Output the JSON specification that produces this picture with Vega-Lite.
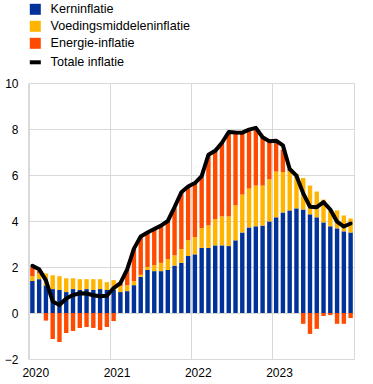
{
  "$schema": "https://vega.github.io/schema/vega-lite/v6.json",
  "width": 325,
  "height": 276,
  "autosize": {"type": "none"},
  "padding": {"left": 29, "top": 83, "right": 19, "bottom": 25},
  "config": {
    "font": "Liberation Sans",
    "view": {"stroke": "#d9d9d9", "strokeWidth": 1},
    "axis": {"gridColor": "#d9d9d9", "gridWidth": 1, "domain": false, "ticks": false, "labelFontSize": 12, "labelColor": "#000000", "titleFontSize": 12}
  },
  "data": {
    "values": [
      {"m": "2020-01", "core": 1.39, "food": 0.21, "energy": 0.38, "total": 2.05},
      {"m": "2020-02", "core": 1.47, "food": 0.25, "energy": 0.12, "total": 1.9},
      {"m": "2020-03", "core": 1.2, "food": 0.52, "energy": -0.33, "total": 1.42},
      {"m": "2020-04", "core": 1.04, "food": 0.6, "energy": -1.13, "total": 0.5},
      {"m": "2020-05", "core": 1.0, "food": 0.6, "energy": -1.26, "total": 0.35},
      {"m": "2020-06", "core": 0.91, "food": 0.6, "energy": -0.87, "total": 0.63},
      {"m": "2020-07", "core": 1.04, "food": 0.47, "energy": -0.78, "total": 0.78},
      {"m": "2020-08", "core": 1.0, "food": 0.47, "energy": -0.65, "total": 0.86},
      {"m": "2020-09", "core": 1.04, "food": 0.43, "energy": -0.61, "total": 0.85},
      {"m": "2020-10", "core": 1.0, "food": 0.47, "energy": -0.65, "total": 0.77},
      {"m": "2020-11", "core": 1.04, "food": 0.43, "energy": -0.74, "total": 0.73},
      {"m": "2020-12", "core": 1.0, "food": 0.34, "energy": -0.61, "total": 0.75},
      {"m": "2021-01", "core": 1.0, "food": 0.43, "energy": -0.35, "total": 1.08},
      {"m": "2021-02", "core": 0.91, "food": 0.26, "energy": 0.12, "total": 1.3},
      {"m": "2021-03", "core": 0.95, "food": 0.26, "energy": 0.69, "total": 1.9},
      {"m": "2021-04", "core": 1.21, "food": 0.18, "energy": 1.4, "total": 2.8},
      {"m": "2021-05", "core": 1.57, "food": 0.09, "energy": 1.64, "total": 3.33},
      {"m": "2021-06", "core": 1.87, "food": 0.13, "energy": 1.5, "total": 3.5},
      {"m": "2021-07", "core": 1.82, "food": 0.26, "energy": 1.55, "total": 3.65},
      {"m": "2021-08", "core": 1.82, "food": 0.36, "energy": 1.6, "total": 3.8},
      {"m": "2021-09", "core": 1.87, "food": 0.47, "energy": 1.65, "total": 4.0},
      {"m": "2021-10", "core": 2.06, "food": 0.45, "energy": 2.05, "total": 4.6},
      {"m": "2021-11", "core": 2.18, "food": 0.6, "energy": 2.45, "total": 5.25},
      {"m": "2021-12", "core": 2.48, "food": 0.68, "energy": 2.35, "total": 5.5},
      {"m": "2022-01", "core": 2.55, "food": 0.75, "energy": 2.35, "total": 5.65},
      {"m": "2022-02", "core": 2.83, "food": 0.86, "energy": 2.25, "total": 5.95},
      {"m": "2022-03", "core": 2.83, "food": 0.98, "energy": 3.05, "total": 6.88},
      {"m": "2022-04", "core": 2.94, "food": 1.14, "energy": 2.95, "total": 7.05},
      {"m": "2022-05", "core": 2.94, "food": 1.26, "energy": 3.2, "total": 7.4},
      {"m": "2022-06", "core": 2.91, "food": 1.29, "energy": 3.65, "total": 7.87},
      {"m": "2022-07", "core": 3.16, "food": 1.52, "energy": 3.15, "total": 7.85},
      {"m": "2022-08", "core": 3.5, "food": 1.65, "energy": 2.65, "total": 7.84},
      {"m": "2022-09", "core": 3.72, "food": 1.69, "energy": 2.55, "total": 7.97},
      {"m": "2022-10", "core": 3.77, "food": 1.77, "energy": 2.5, "total": 8.05},
      {"m": "2022-11", "core": 3.8, "food": 1.74, "energy": 2.1, "total": 7.64},
      {"m": "2022-12", "core": 3.98, "food": 1.83, "energy": 1.65, "total": 7.47},
      {"m": "2023-01", "core": 4.16, "food": 1.99, "energy": 1.35, "total": 7.49},
      {"m": "2023-02", "core": 4.37, "food": 1.76, "energy": 0.97, "total": 7.29},
      {"m": "2023-03", "core": 4.46, "food": 1.7, "energy": 0.1, "total": 6.26},
      {"m": "2023-04", "core": 4.55, "food": 1.5, "energy": 0.0, "total": 5.97},
      {"m": "2023-05", "core": 4.5, "food": 1.37, "energy": -0.47, "total": 5.2},
      {"m": "2023-06", "core": 4.29, "food": 1.25, "energy": -0.91, "total": 4.62},
      {"m": "2023-07", "core": 4.16, "food": 1.12, "energy": -0.69, "total": 4.6},
      {"m": "2023-08", "core": 3.94, "food": 0.99, "energy": -0.13, "total": 4.82},
      {"m": "2023-09", "core": 3.77, "food": 0.69, "energy": -0.09, "total": 4.5},
      {"m": "2023-10", "core": 3.68, "food": 0.78, "energy": -0.47, "total": 3.97},
      {"m": "2023-11", "core": 3.55, "food": 0.69, "energy": -0.47, "total": 3.76},
      {"m": "2023-12", "core": 3.5, "food": 0.61, "energy": -0.22, "total": 3.89}
    ]
  },
  "encoding": {
    "x": {
      "field": "m",
      "type": "ordinal",
      "scale": {"paddingInner": 0.35, "paddingOuter": 0.175},
      "axis": {
        "title": null,
        "values": ["2020-01", "2021-01", "2022-01", "2023-01"],
        "labelExpr": "substring(datum.value, 0, 4)",
        "labelAngle": 0,
        "grid": true,
        "bandPosition": -0.27,
        "labelOffset": 3.4,
        "labelAlign": "center",
        "labelPadding": 8
      }
    }
  },
  "layer": [
    {
      "transform": [
        {"fold": ["core", "food", "energy"], "as": ["key", "val"]},
        {"calculate": "indexof(['core','food','energy'], datum.key)", "as": "ord"}
      ],
      "mark": {"type": "bar"},
      "encoding": {
        "y": {
          "field": "val",
          "type": "quantitative",
          "stack": "zero",
          "scale": {"domain": [-2, 10], "nice": false, "zero": false},
          "axis": {"title": null, "values": [-2, 0, 2, 4, 6, 8, 10], "grid": true, "labelPadding": 11}
        },
        "order": {"field": "ord", "type": "quantitative"},
        "color": {
          "field": "key",
          "type": "nominal",
          "scale": {
            "domain": ["core", "food", "energy", "total"],
            "range": ["#003299", "#ffb400", "#ff4b00", "#000000"]
          },
          "legend": {
            "title": null,
            "orient": "none",
            "legendX": 0,
            "legendY": -80,
            "padding": 0,
            "labelFontSize": 12.6,
            "labelColor": "#000000",
            "labelOffset": 9,
            "rowPadding": 4,
            "symbolSize": 121,
            "symbolType": "square",
            "labelExpr": "datum.value === 'core' ? 'Kerninflatie' : datum.value === 'food' ? 'Voedingsmiddeleninflatie' : datum.value === 'energy' ? 'Energie-inflatie' : 'Totale inflatie'",
            "encode": {
              "symbols": {
                "update": {
                  "shape": {"signal": "datum.value === 'total' ? 'stroke' : 'square'"},
                  "strokeWidth": {"signal": "datum.value === 'total' ? 4 : 0"},
                  "stroke": {"signal": "datum.value === 'total' ? '#000000' : null"},
                  "opacity": {"value": 1},
                  "fillOpacity": {"value": 1}
                }
              }
            }
          }
        }
      }
    },
    {
      "mark": {"type": "line", "strokeWidth": 4, "strokeJoin": "round", "strokeCap": "round"},
      "encoding": {
        "y": {"field": "total", "type": "quantitative"},
        "color": {"datum": "total"}
      }
    }
  ]
}
